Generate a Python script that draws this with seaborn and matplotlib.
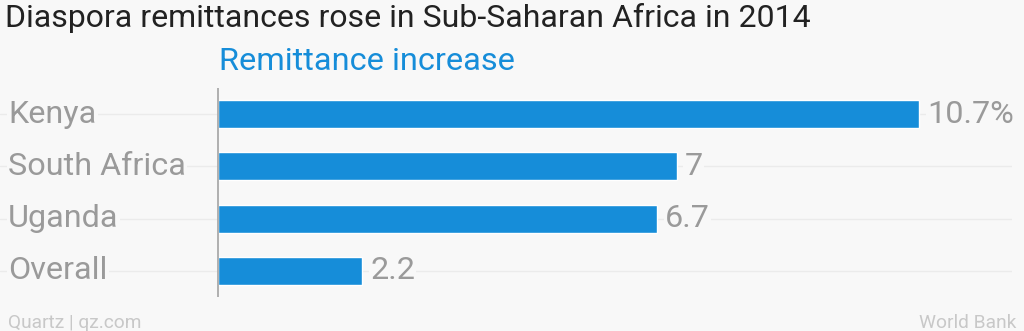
import matplotlib
matplotlib.use("Agg")
import matplotlib.pyplot as plt
import seaborn as sns
import pandas as pd

categories = ["Kenya", "South Africa", "Uganda", "Overall"]
values = [10.7, 7.0, 6.7, 2.2]
value_labels = ["10.7%", "7", "6.7", "2.2"]

title = "Diaspora remittances rose in Sub-Saharan Africa in 2014"
subtitle = "Remittance increase"
source_left = "Quartz | qz.com"
source_right = "World Bank"

BG = "#f8f8f8"
BAR = "#168dd9"
GRAY = "#9a9a9a"

sns.set_theme(style="white")
plt.rcParams["font.family"] = ["Roboto", "DejaVu Sans"]

df = pd.DataFrame({"category": categories, "value": values})

W, H = 1024, 331
fig = plt.figure(figsize=(W / 100, H / 100), dpi=100, facecolor=BG)

ax_left_px, ax_right_px = 0, 1012
ax_top_px, ax_bottom_px = 88, 297
ax = fig.add_axes([ax_left_px / W, 1 - ax_bottom_px / H,
                   (ax_right_px - ax_left_px) / W, (ax_bottom_px - ax_top_px) / H])
ax.set_facecolor(BG)

zero_px = 218
px_per_unit = (919 - 218) / 10.7
xmin = -(zero_px - ax_left_px) / px_per_unit
xmax = (ax_right_px - zero_px) / px_per_unit

# gridlines
for i in range(len(categories)):
    ax.axhline(i, color="#ebebeb", lw=1, zorder=0)

sns.barplot(data=df, x="value", y="category", orient="h", color=BAR,
            width=0.54, saturation=1, ax=ax, zorder=2)

ax.set_xlim(xmin, xmax)
ax.set_ylim(len(categories) - 0.5, -0.5)
ax.axvline(0, color="#aaaaaa", lw=1.3, zorder=3)

for s in ax.spines.values():
    s.set_visible(False)
ax.set_xticks([])
ax.set_yticks([])
ax.set_xlabel("")
ax.set_ylabel("")

lbl_bbox = dict(facecolor=BG, edgecolor="none", pad=1)
for i, (cat, v, lab) in enumerate(zip(categories, values, value_labels)):
    ax.text(xmin + 8 / px_per_unit, i, cat, ha="left", va="center",
            fontsize=23.3, color=GRAY, zorder=4, bbox=lbl_bbox)
    ax.text(v + 8 / px_per_unit, i, lab, ha="left", va="center",
            fontsize=23.3, color=GRAY, zorder=4, bbox=lbl_bbox)

fig.text(5 / W, 1 - 18 / H, title, ha="left", va="center",
         fontsize=23, color="#222222")
fig.text(219 / W, 1 - 61 / H, subtitle, ha="left", va="center",
         fontsize=23.4, color=BAR)
fig.text(8 / W, 1 - 323 / H, source_left, ha="left", va="center",
         fontsize=13.8, color="#c8c8c8")
fig.text(1016 / W, 1 - 323 / H, source_right, ha="right", va="center",
         fontsize=13.8, color="#c8c8c8")

fig.savefig("out.png", dpi=100, facecolor=BG)
